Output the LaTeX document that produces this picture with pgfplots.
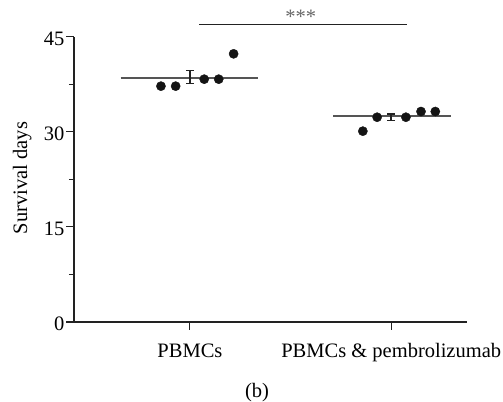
\documentclass[border=0pt]{standalone}
\usepackage{pgfplots}
\pgfplotsset{compat=1.18}
\usepackage{fontspec}
\setmainfont{Liberation Serif}
\definecolor{dotc}{HTML}{141414}
\definecolor{meanc}{HTML}{555555}
\definecolor{axc}{HTML}{222222}
\begin{document}
\begin{tikzpicture}
\useasboundingbox (-74bp,-80bp) rectangle (429bp,322bp);
\begin{axis}[
  scale only axis, width=392.7bp, height=285.3bp,
  xmin=0.424, xmax=2.375, ymin=0, ymax=45,
  axis lines*=left,
  axis line style={color=axc, line width=1.1bp},
  clip=false,
  font=\fontsize{20.5bp}{24bp}\selectfont,
  /pgf/number format/assume math mode=true,
  tick align=outside,
  major tick length=7.5bp, minor tick length=5bp,
  tick style={color=axc, line width=1.1bp},
  xtick={1,2}, xticklabels={PBMCs, PBMCs \& pembrolizumab},
  ytick={0,15,30,45}, minor ytick={7.5,22.5,37.5},
  xticklabel style={anchor=base, inner sep=0pt, yshift=-28bp},
  yticklabel style={anchor=east, inner sep=0pt, xshift=-2bp, yshift=-2bp},
  ylabel={Survival days},
  ylabel style={at={(rel axis cs:-0.132,0.505)}, anchor=center},
  xlabel={(b)},
  xlabel style={at={(rel axis cs:0.466,0)}, anchor=base, inner sep=0pt, yshift=-75bp},
]
% mean lines
\addplot[meanc, line width=1.6bp, forget plot] coordinates {(0.656,38.5) (1.34,38.5)};
\addplot[meanc, line width=1.6bp, forget plot] coordinates {(1.712,32.45) (2.295,32.45)};
% error bars
\addplot[draw=none, mark=none, forget plot, error bars/.cd, y dir=both, y explicit,
  error bar style={line width=1.5bp, color=axc}, error mark options={rotate=90, mark size=4bp, line width=1.5bp, color=axc}]
  coordinates {(1,38.65) +- (0,1.05) (2,32.28) +- (0,0.52)};
% dots
\addplot[only marks, mark=*, mark size=4.6bp, dotc, forget plot] coordinates {
  (0.856,37.2) (0.929,37.2) (1.071,38.3) (1.143,38.3) (1.217,42.3)};
\addplot[only marks, mark=*, mark size=4.6bp, dotc, forget plot] coordinates {
  (1.859,30.1) (1.930,32.3) (2.073,32.3) (2.148,33.2) (2.219,33.2)};
% significance
\addplot[axc, line width=1.2bp, forget plot] coordinates {(1.046,46.9) (2.080,46.9)};
\node[anchor=base, inner sep=0pt, text=black!60] at (axis cs:1.551,47.03) {***};
\end{axis}
\end{tikzpicture}
\end{document}
